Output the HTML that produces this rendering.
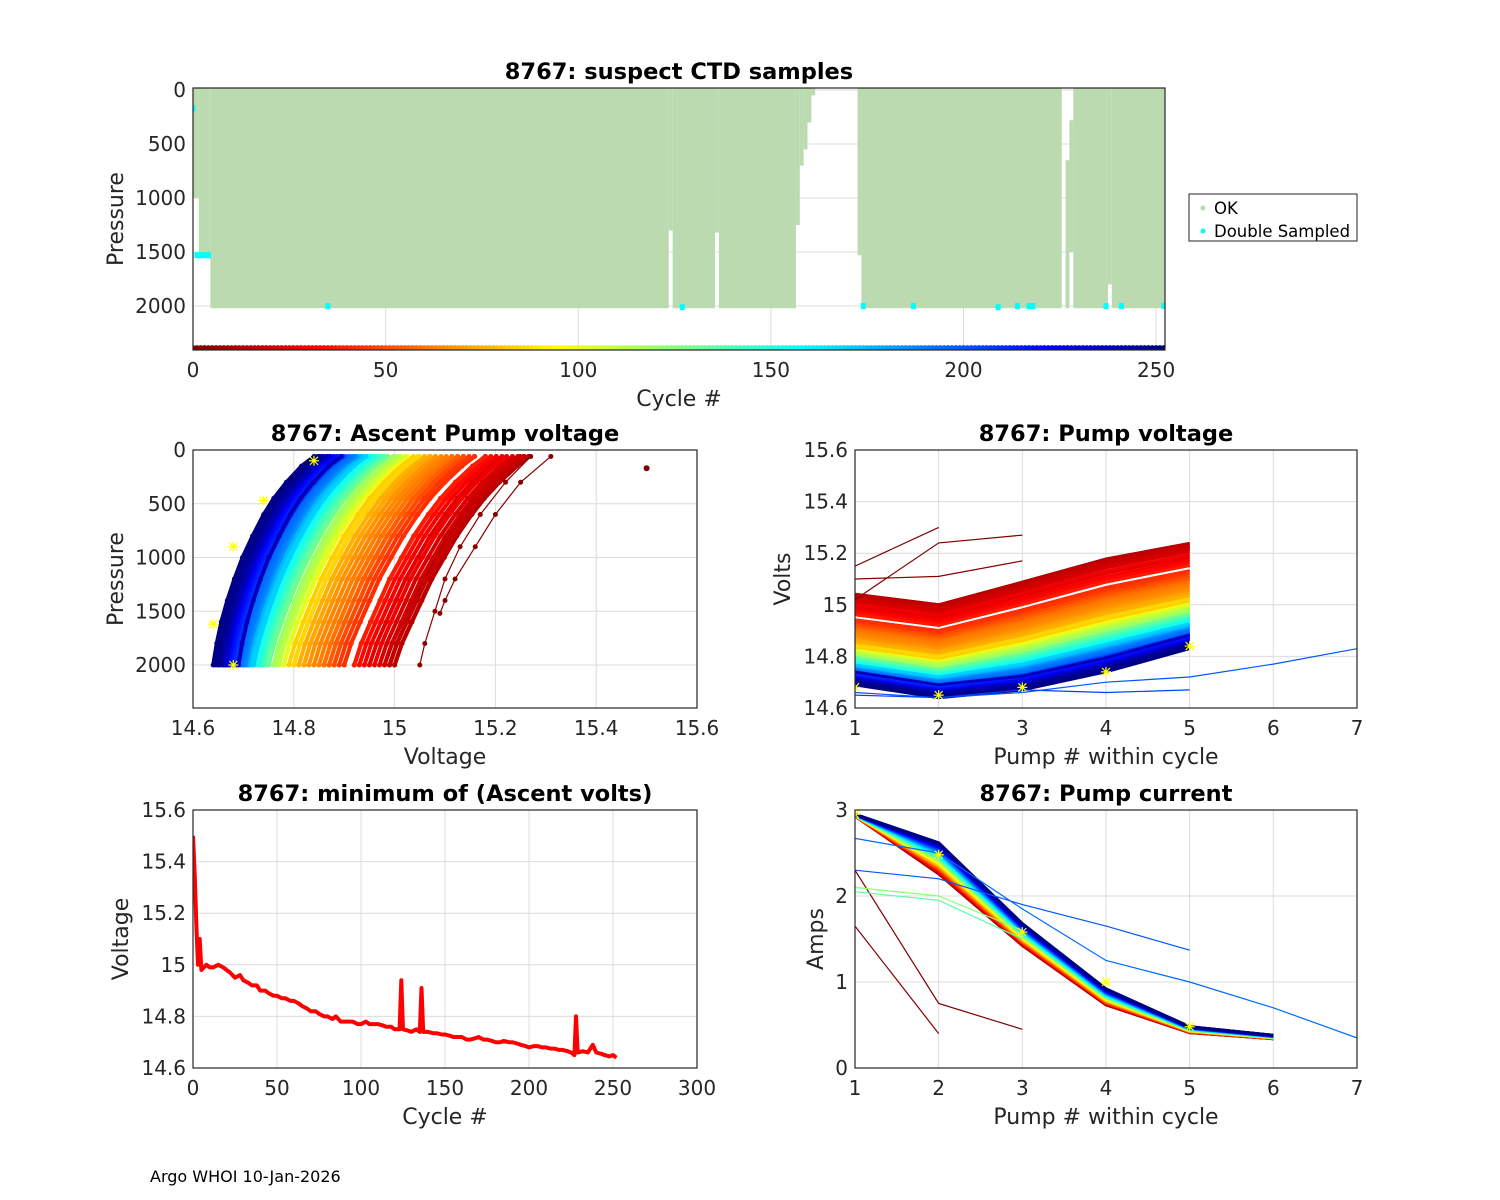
<!DOCTYPE html>
<html><head><meta charset="utf-8">
<style>
html,body{margin:0;padding:0;background:#fff;}
svg{display:block;font-family:"DejaVu Sans","Liberation Sans",sans-serif;}
.tick{font-size:20px;fill:#262626;}
.lab{font-size:22px;fill:#262626;}
.ttl{font-size:22.5px;font-weight:bold;fill:#000;}
</style></head>
<body>
<svg id="fig" width="1500" height="1200" viewBox="0 0 1500 1200" xmlns="http://www.w3.org/2000/svg">
<rect width="1500" height="1200" fill="#fff"/>
<text x="150" y="1182" font-size="16" fill="#000">Argo WHOI 10-Jan-2026</text>
</svg>
<script>
// ---------- DATA ----------
const okRunStart =  [0,   2,   5,   124, 125, 136, 137, 157, 158, 159, 160, 161, 173, 174, 227, 228, 229, 238, 239];
const okRunEnd =    [1,   4,   123, 124, 135, 136, 156, 157, 158, 159, 160, 161, 173, 225, 227, 228, 237, 238, 252];
const okRunTop =    [-18, -18, -18, -18, -18, -18, -18, -18, -18, -18, -18, -18, -18, -18, 650, 280, -18, -18, -18];
const okRunBottom = [1000,1530,2020,1300,2020,1320,2020,1250,700, 550, 300, 50,  1530,2020,2020,1500,2020,1800,2020];
const dsCycle =    [0,   1,   2,   3,   4,   35,  127, 174, 187, 209, 214, 217, 218, 237, 241, 252];
const dsPressure = [170, 1530,1530,1530,1530,2000,2010,2000,2000,2010,2000,2000,2000,2000,2000,2000];
const cycleCount = 253;

const minCycle = [0,1,2,3,4,5,8,10,12,15,18,20,22,25,28,30,33,35,38,40,43,45,48,50,53,55,58,60,63,65,68,70,73,75,78,80,83,85,88,90,93,95,98,100,103,105,108,110,113,115,118,120,123,124,125,128,130,133,135,136,137,140,143,145,148,150,153,155,158,160,163,165,168,170,173,175,178,180,183,185,188,190,193,195,198,200,203,205,208,210,213,215,218,220,223,225,227,228,229,232,235,238,240,243,245,248,250,252];
const minVolt  = [15.5,15.35,15.15,15.0,15.1,14.98,15.0,14.99,14.99,15.0,14.99,14.98,14.97,14.95,14.96,14.94,14.93,14.92,14.92,14.9,14.9,14.89,14.88,14.88,14.87,14.87,14.86,14.86,14.85,14.84,14.83,14.82,14.82,14.81,14.80,14.8,14.79,14.8,14.78,14.78,14.78,14.78,14.77,14.77,14.78,14.77,14.77,14.77,14.765,14.76,14.76,14.75,14.75,14.94,14.75,14.745,14.74,14.75,14.74,14.91,14.74,14.74,14.735,14.735,14.73,14.73,14.725,14.72,14.72,14.72,14.71,14.71,14.715,14.72,14.71,14.71,14.705,14.70,14.70,14.705,14.70,14.70,14.695,14.69,14.685,14.68,14.685,14.685,14.68,14.68,14.675,14.675,14.67,14.67,14.665,14.66,14.65,14.80,14.66,14.665,14.66,14.69,14.66,14.655,14.65,14.645,14.65,14.64];
const spikeCycles = [0,1,2,3,4,124,136,228];

const profP          = [60,150,300,450,600,800,1000,1200,1400,1600,1800,2000];
const profDeltaEarly = [0.27,0.245,0.21,0.18,0.155,0.125,0.10,0.075,0.055,0.035,0.015,0];
const profDeltaLate  = [0.20,0.175,0.145,0.12,0.10,0.078,0.058,0.042,0.028,0.016,0.007,0];

const pumpNum = [1,2,3,4,5];
const pumpVoltEarly = [0.04,0.0,0.09,0.18,0.24];
const pumpVoltLate  = [0.05,0.0,0.03,0.10,0.19];

const pumpNum6 = [1,2,3,4,5,6];
const currentEarly = [2.93,2.25,1.42,0.73,0.41,0.34];
const currentLate  = [2.95,2.62,1.68,0.92,0.48,0.38];

const ascOutV = [[15.31,15.25,15.2,15.16,15.12,15.1,15.09],[15.27,15.22,15.17,15.13,15.1,15.08,15.06,15.05]];
const ascOutP = [[60,300,600,900,1200,1400,1520],[60,300,600,900,1200,1500,1800,2000]];
const ascOutC = [1,3];

const voltOutX = [[1,2],[1,2,3],[1,2,3],[1,2,3,4,5,6,7],[1,2,3,4,5]];
const voltOutY = [[15.15,15.30],[15.02,15.24,15.27],[15.10,15.11,15.17],[14.66,14.64,14.66,14.70,14.72,14.77,14.83],[14.65,14.64,14.67,14.66,14.67]];
const voltOutC = [0,0,2,200,205];
const currOutX = [[1,2,3],[1,2],[1,2,3,4,5],[1,2,3,4,5,6,7],[1,2,3],[1,2,3]];
const currOutY = [[2.3,0.75,0.45],[1.65,0.4],[2.3,2.2,1.9,1.65,1.37],[2.67,2.5,1.85,1.25,1.0,0.7,0.35],[2.1,2.0,1.6],[2.05,1.95,1.5]];
const currOutC = [0,2,200,195,124,136];

const starAscV = [14.84,14.74,14.68,14.64,14.68];
const starAscP = [100,470,900,1620,2000];
const starPumpV = [14.68,14.65,14.68,14.74,14.84];
const starCurr = [2.95,2.48,1.58,1.0,0.48];

// ---------- HELPERS ----------
const NS = "http://www.w3.org/2000/svg";
const svg = document.getElementById('fig');
function el(tag, attrs, parent){
  const e = document.createElementNS(NS, tag);
  for (const k in attrs) e.setAttribute(k, attrs[k]);
  (parent||svg).appendChild(e);
  return e;
}
function jet(t){
  const cl = v => Math.max(0, Math.min(1, v));
  const r = cl(1.5 - Math.abs(4*t-3)), g = cl(1.5 - Math.abs(4*t-2)), b = cl(1.5 - Math.abs(4*t-1));
  return `rgb(${Math.round(r*255)},${Math.round(g*255)},${Math.round(b*255)})`;
}
function cycColor(c){ return jet(1 - c/cycleCount); }
function mix(a, b, f){ return a.map((v,k) => v + (b[k]-v)*f); }

function axes(o){
  const g = el('g', {});
  
  
  const sx = v => o.x + (v - o.xmin)/(o.xmax - o.xmin)*o.w;
  const sy = o.rev ? (v => o.y + (v - o.ymin)/(o.ymax - o.ymin)*o.h)
                   : (v => o.y + o.h - (v - o.ymin)/(o.ymax - o.ymin)*o.h);
  const grid = el('g', {}, g);
  
  
  o.xt.forEach((t,i) => {
    el('line', {x1:sx(t), x2:sx(t), y1:o.y, y2:o.y+o.h, stroke:'#dcdcdc', 'stroke-width':1}, grid);
    const tx = el('text', {x:sx(t), y:o.y+o.h+27, 'text-anchor':'middle', class:'tick'}, g);
    tx.textContent = o.xl[i];
    
    
  });
  o.yt.forEach((t,i) => {
    el('line', {x1:o.x, x2:o.x+o.w, y1:sy(t), y2:sy(t), stroke:'#dcdcdc', 'stroke-width':1}, grid);
    const ty = el('text', {x:o.x-7, y:sy(t)+7, 'text-anchor':'end', class:'tick'}, g);
    ty.textContent = o.yl[i];
    
    
  });
  const cid = 'clip-' + o.name;
  const cp = el('clipPath', {id:cid}, g);
  el('rect', {x:o.x, y:o.y, width:o.w, height:o.h}, cp);
  const plot = el('g', {'clip-path':`url(#${cid})`}, g);
  
  
  const frameG = el('g', {}, g);
  const t = el('text', {x:o.x+o.w/2, y:o.y-9, 'text-anchor':'middle', class:'ttl'}, g);
  t.textContent = o.title;
  
  
  const xl = el('text', {x:o.x+o.w/2, y:o.y+o.h+56, 'text-anchor':'middle', class:'lab'}, g);
  xl.textContent = o.xlabel;
  
  
  const yx = o.x - o.ylOff, yy = o.y + o.h/2;
  const yl = el('text', {x:yx, y:yy, 'text-anchor':'middle', class:'lab', transform:`rotate(-90 ${yx} ${yy})`}, g);
  yl.textContent = o.ylabel;
  
  
  return {sx, sy, plot, finish: () => {
    const f = el('rect', {x:o.x, y:o.y, width:o.w, height:o.h, fill:'none', stroke:'#262626', 'stroke-width':1.2}, frameG);
    
    
    g.appendChild(frameG);
  }};
}
function pathD(xs, ys, sx, sy){ return xs.map((v,i) => (i?'L':'M') + sx(v).toFixed(1) + ' ' + sy(ys[i]).toFixed(1)).join(' '); }
function star(parent, x, y){
  const s = el('path', {d:`M${x-5} ${y}H${x+5}M${x} ${y-5}V${y+5}M${x-4} ${y-4}L${x+4} ${y+4}M${x-4} ${y+4}L${x+4} ${y-4}`, stroke:'#ffff00', 'stroke-width':1.2, fill:'none'}, parent);
  
  
}
const isSpike = c => spikeCycles.indexOf(c) >= 0;

// ---------- PANEL 1 ----------
(function(){
  const A = axes({name:'suspect-ctd-panel', x:193, y:88, w:972, h:262, xmin:0, xmax:252.3, ymin:-18.5, ymax:2407, rev:true,
    xt:[0,50,100,150,200,250], xl:['0','50','100','150','200','250'], yt:[0,500,1000,1500,2000], yl:['0','500','1000','1500','2000'],
    title:'8767: suspect CTD samples', xlabel:'Cycle #', ylabel:'Pressure', ylOff:70});
  okRunStart.forEach((c0,i) => {
    const r = el('rect', {x:A.sx(c0-0.5), y:A.sy(okRunTop[i]), width:A.sx(okRunEnd[i]+0.5)-A.sx(c0-0.5), height:A.sy(okRunBottom[i])-A.sy(okRunTop[i]), fill:'#bcdab0'}, A.plot);
    
    
  });
  dsCycle.forEach((c,i) => {
    const d = el('rect', {x:A.sx(c)-2.5, y:A.sy(dsPressure[i])-3, width:5, height:6, fill:'#00ffff'}, A.plot);
    
    
  });
  for (let c = 0; c < cycleCount; c++){
    const d = el('circle', {cx:A.sx(c), cy:A.sy(2390), r:3, fill:cycColor(c)}, A.plot);
    
    
  }
  A.finish();
  const lg = el('g', {});
  
  
  el('rect', {x:1189, y:194, width:168, height:47, fill:'#fff', stroke:'#262626', 'stroke-width':1}, lg);
  el('circle', {cx:1203, cy:208, r:2.5, fill:'#bcdab0'}, lg);
  el('circle', {cx:1203, cy:231, r:2.5, fill:'#00ffff'}, lg);
  const t1 = el('text', {x:1214, y:214, 'font-size':16.5, fill:'#000'}, lg); t1.textContent = 'OK';
  
  
  const t2 = el('text', {x:1214, y:237, 'font-size':16.5, fill:'#000'}, lg); t2.textContent = 'Double Sampled';
  
  
})();

// ---------- PANEL 2 ----------
(function(){
  const A = axes({name:'ascent-pump-voltage-panel', x:193, y:450, w:504, h:258, xmin:14.6, xmax:15.6, ymin:0, ymax:2400, rev:true,
    xt:[14.6,14.8,15,15.2,15.4,15.6], xl:['14.6','14.8','15','15.2','15.4','15.6'], yt:[0,500,1000,1500,2000], yl:['0','500','1000','1500','2000'],
    title:'8767: Ascent Pump voltage', xlabel:'Voltage', ylabel:'Pressure', ylOff:70});
  minCycle.forEach((c,i) => {
    if (isSpike(c)) return;
    const col = cycColor(c);
    const delta = mix(profDeltaEarly, profDeltaLate, c/cycleCount);
    const xs = delta.map(d => minVolt[i] + d);
    const p = el('path', {d:pathD(xs, profP, A.sx, A.sy), stroke:col, 'stroke-width':4, fill:'none'}, A.plot);
    
    
    xs.forEach((v,k) => {
      const d = el('circle', {cx:A.sx(v), cy:A.sy(profP[k]), r:2.5, fill:col}, A.plot);
      
      
    });
  });
  ascOutV.forEach((xs,i) => {
    const col = cycColor(ascOutC[i]);
    const p = el('path', {d:pathD(xs, ascOutP[i], A.sx, A.sy), stroke:col, 'stroke-width':1.2, fill:'none'}, A.plot);
    
    
    xs.forEach((v,k) => {
      const d = el('circle', {cx:A.sx(v), cy:A.sy(ascOutP[i][k]), r:2.5, fill:col}, A.plot);
      
      
    });
  });
  const d0 = el('circle', {cx:A.sx(minVolt[0]), cy:A.sy(170), r:3, fill:cycColor(0)}, A.plot);
  
  
  starAscV.forEach((v,i) => star(A.plot, A.sx(v), A.sy(starAscP[i])));
  A.finish();
})();

// ---------- PANEL 3 ----------
(function(){
  const A = axes({name:'pump-voltage-panel', x:855, y:450, w:502, h:258, xmin:1, xmax:7, ymin:14.6, ymax:15.6, rev:false,
    xt:[1,2,3,4,5,6,7], xl:['1','2','3','4','5','6','7'], yt:[14.6,14.8,15,15.2,15.4,15.6], yl:['14.6','14.8','15','15.2','15.4','15.6'],
    title:'8767: Pump voltage', xlabel:'Pump # within cycle', ylabel:'Volts', ylOff:65});
  minCycle.forEach((c,i) => {
    if (isSpike(c)) return;
    const shape = mix(pumpVoltEarly, pumpVoltLate, c/cycleCount);
    const ys = shape.map(d => minVolt[i] + d);
    const p = el('path', {d:pathD(pumpNum, ys, A.sx, A.sy), stroke:cycColor(c), 'stroke-width':3, fill:'none'}, A.plot);
    
    
  });
  voltOutX.forEach((xs,i) => {
    const p = el('path', {d:pathD(xs, voltOutY[i], A.sx, A.sy), stroke:cycColor(voltOutC[i]), 'stroke-width':1.2, fill:'none'}, A.plot);
    
    
  });
  starPumpV.forEach((v,i) => star(A.plot, A.sx(pumpNum[i]), A.sy(v)));
  A.finish();
})();

// ---------- PANEL 4 ----------
(function(){
  const A = axes({name:'min-ascent-volts-panel', x:193, y:810, w:504, h:258, xmin:0, xmax:300, ymin:14.6, ymax:15.6, rev:false,
    xt:[0,50,100,150,200,250,300], xl:['0','50','100','150','200','250','300'], yt:[14.6,14.8,15,15.2,15.4,15.6], yl:['14.6','14.8','15','15.2','15.4','15.6'],
    title:'8767: minimum of (Ascent volts)', xlabel:'Cycle #', ylabel:'Voltage', ylOff:65});
  const p = el('path', {d:pathD(minCycle, minVolt, A.sx, A.sy), stroke:'#ff0000', 'stroke-width':4, fill:'none', 'stroke-linejoin':'round'}, A.plot);
  
  
  A.finish();
})();

// ---------- PANEL 5 ----------
(function(){
  const A = axes({name:'pump-current-panel', x:855, y:810, w:502, h:258, xmin:1, xmax:7, ymin:0, ymax:3, rev:false,
    xt:[1,2,3,4,5,6,7], xl:['1','2','3','4','5','6','7'], yt:[0,1,2,3], yl:['0','1','2','3'],
    title:'8767: Pump current', xlabel:'Pump # within cycle', ylabel:'Amps', ylOff:32});
  minCycle.forEach((c,i) => {
    if (isSpike(c)) return;
    const ys = mix(currentEarly, currentLate, c/cycleCount);
    const p = el('path', {d:pathD(pumpNum6, ys, A.sx, A.sy), stroke:cycColor(c), 'stroke-width':3, fill:'none'}, A.plot);
    
    
  });
  currOutX.forEach((xs,i) => {
    const p = el('path', {d:pathD(xs, currOutY[i], A.sx, A.sy), stroke:cycColor(currOutC[i]), 'stroke-width':1.2, fill:'none'}, A.plot);
    
    
  });
  starCurr.forEach((v,i) => star(A.plot, A.sx(pumpNum6[i]), A.sy(v)));
  A.finish();
})();
</script>
</body></html>
